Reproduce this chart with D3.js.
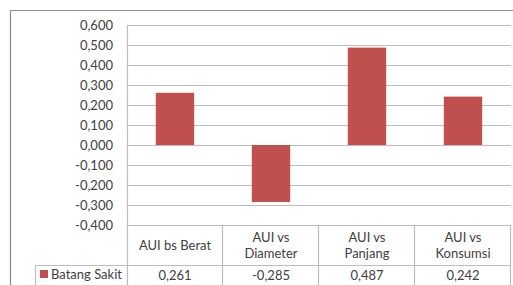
<!DOCTYPE html>
<html>
<head>
<meta charset="utf-8">
<script src="https://cdn.jsdelivr.net/npm/d3@7"></script>
<style>
  body { margin: 0; background: #fff; }
  text { font-family: Lato, "Open Sans", sans-serif; fill: #404040; }
</style>
</head>
<body>
<div id="chart"></div>
<script>
var categories = [["AUI bs Berat"], ["AUI vs", "Diameter"], ["AUI vs", "Panjang"], ["AUI vs", "Konsumsi"]];
var seriesName = "Batang Sakit";
var values = [0.261, -0.285, 0.487, 0.242];
var yDomain = [-0.4, 0.6];

var W = 513, H = 285,
    plotLeft = 127, plotRight = 511,
    plotTop = 25, plotBottom = 225,
    rowLine = 265, legendLeft = 35,
    barColor = "#C0504D";

var locale = d3.formatLocale({decimal: ",", thousands: ".", grouping: [3], currency: ["", ""], minus: "-"});
var fmt = locale.format(".3f");

var svg = d3.select("#chart").append("svg")
    .attr("width", W)
    .attr("height", H);

var x = d3.scaleBand()
    .domain(d3.range(categories.length))
    .range([plotLeft, plotRight]);

var y = d3.scaleLinear()
    .domain(yDomain)
    .range([plotBottom, plotTop]);

// outer frame
svg.append("path")
  .attr("d", "M10.5," + H + "V10.5H" + W)
  .attr("fill", "none")
  .attr("stroke", "#8c8c8c")
  .attr("stroke-width", 1.2);

// gridlines + tick labels
var ticks = d3.range(11).map(function(i) { return Math.round((yDomain[0] + i * 0.1) * 10) / 10; });

svg.selectAll("line.grid")
  .data(ticks)
  .enter().append("line")
    .attr("class", "grid")
    .attr("x1", plotLeft)
    .attr("x2", plotRight)
    .attr("y1", function(d) { return Math.round(y(d)) + 0.5; })
    .attr("y2", function(d) { return Math.round(y(d)) + 0.5; })
    .attr("stroke", "#bdbdbd")
    .attr("stroke-width", 1.2);

svg.selectAll("text.tick")
  .data(ticks)
  .enter().append("text")
    .attr("class", "tick")
    .attr("x", 113)
    .attr("y", function(d) { return y(d) + 4.5; })
    .attr("text-anchor", "end")
    .style("font-size", "13px")
    .text(function(d) { return fmt(d); });

// bars
svg.selectAll("rect.bar")
  .data(values)
  .enter().append("rect")
    .attr("class", "bar")
    .attr("x", function(d, i) { return x(i) + x.bandwidth() * 0.3; })
    .attr("width", x.bandwidth() * 0.4)
    .attr("y", function(d) { return y(Math.max(0, d)); })
    .attr("height", function(d) { return Math.abs(y(d) - y(0)); })
    .attr("fill", barColor);

// table lines
svg.append("line")
  .attr("x1", plotLeft + 0.5).attr("x2", plotLeft + 0.5)
  .attr("y1", plotTop).attr("y2", H)
  .attr("stroke", "#bdbdbd").attr("stroke-width", 1.2);

svg.selectAll("line.col")
  .data(d3.range(1, categories.length + 1))
  .enter().append("line")
    .attr("class", "col")
    .attr("x1", function(i) { return Math.round(x(i - 1) + x.bandwidth()) - 0.5; })
    .attr("x2", function(i) { return Math.round(x(i - 1) + x.bandwidth()) - 0.5; })
    .attr("y1", plotBottom)
    .attr("y2", H)
    .attr("stroke", "#bdbdbd")
    .attr("stroke-width", 1.2);

svg.append("line")
  .attr("x1", legendLeft).attr("x2", plotRight)
  .attr("y1", rowLine + 0.5).attr("y2", rowLine + 0.5)
  .attr("stroke", "#bdbdbd").attr("stroke-width", 1.2);

svg.append("line")
  .attr("x1", legendLeft + 0.5).attr("x2", legendLeft + 0.5)
  .attr("y1", rowLine).attr("y2", H)
  .attr("stroke", "#bdbdbd").attr("stroke-width", 1.2);

// category labels
var cat = svg.selectAll("text.cat")
  .data(categories)
  .enter().append("text")
    .attr("class", "cat")
    .attr("text-anchor", "middle")
    .style("font-size", "13px")
    .attr("x", function(d, i) { return x(i) + x.bandwidth() / 2; })
    .attr("y", function(d) { return d.length === 1 ? 250 : 242; });

cat.selectAll("tspan")
  .data(function(d) { return d; })
  .enter().append("tspan")
    .attr("x", function() { return d3.select(this.parentNode).attr("x"); })
    .attr("dy", function(d, i) { return i === 0 ? 0 : 16; })
    .text(function(d) { return d; });

// values row
svg.selectAll("text.val")
  .data(values)
  .enter().append("text")
    .attr("class", "val")
    .attr("text-anchor", "middle")
    .style("font-size", "13px")
    .attr("x", function(d, i) { return x(i) + x.bandwidth() / 2; })
    .attr("y", 280)
    .text(function(d) { return fmt(d); });

// legend key
svg.append("rect")
  .attr("x", 40).attr("y", 270)
  .attr("width", 8).attr("height", 8)
  .attr("fill", barColor);

svg.append("text")
  .attr("x", 51).attr("y", 279)
  .style("font-size", "13px")
  .text(seriesName);
</script>
</body>
</html>
